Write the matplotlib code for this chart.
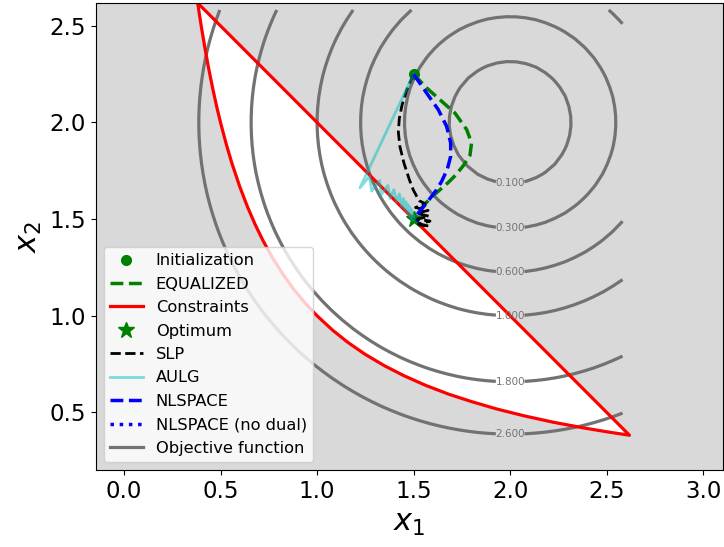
import matplotlib.pyplot as plt
import numpy as np

# objective: squared distance to a center point, contour levels shown
obj_center = (2.0, 2.0)
obj_levels = [0.1, 0.3, 0.6, 1.0, 1.8, 2.6]
grid_lo, grid_hi, grid_step = 0.382, 2.618, 0.05

# constraint boundary (curved part); closing the
# polygon gives the straight edge x1 + x2 = 3
constraint_x1 = [0.382, 0.39, 0.40, 0.42, 0.44, 0.46, 0.48, 0.50, 0.53, 0.56,
                 0.60, 0.64, 0.68, 0.72, 0.77, 0.82, 0.88, 0.94, 1.00, 1.08,
                 1.16, 1.25, 1.35, 1.45, 1.56, 1.68, 1.80, 1.93, 2.07, 2.22,
                 2.38, 2.50, 2.618]
constraint_x2 = [2.618, 2.564, 2.500, 2.381, 2.273, 2.174, 2.083, 2.000, 1.887, 1.786,
                 1.667, 1.563, 1.471, 1.389, 1.299, 1.220, 1.136, 1.064, 1.000, 0.926,
                 0.862, 0.800, 0.741, 0.690, 0.641, 0.595, 0.556, 0.518, 0.483, 0.450,
                 0.420, 0.400, 0.382]

init_pt = (1.5, 2.25)
optimum_pt = (1.5, 1.5)

equalized_x1 = [1.50, 1.567, 1.636, 1.714, 1.775, 1.800, 1.792, 1.760, 1.720,
                1.680, 1.640, 1.600, 1.560, 1.520, 1.500]
equalized_x2 = [2.25, 2.179, 2.118, 2.049, 1.963, 1.894, 1.830, 1.780, 1.730,
                1.690, 1.655, 1.620, 1.580, 1.530, 1.500]

slp_x1 = [1.50, 1.465, 1.440, 1.426, 1.421, 1.429, 1.450, 1.478, 1.498, 1.516,
          1.530, 1.560, 1.510, 1.575, 1.515, 1.580, 1.520, 1.585, 1.525, 1.580, 1.530]
slp_x2 = [2.25, 2.170, 2.090, 2.020, 1.950, 1.876, 1.790, 1.704, 1.652, 1.618,
          1.595, 1.580, 1.560, 1.545, 1.530, 1.515, 1.500, 1.490, 1.475, 1.465, 1.470]

aulg_x1 = [1.50, 1.222, 1.272, 1.283, 1.324, 1.331, 1.367, 1.378, 1.398, 1.412,
           1.427, 1.438, 1.448, 1.452, 1.460, 1.462, 1.470, 1.472, 1.480, 1.480,
           1.488, 1.488, 1.495, 1.495, 1.500, 1.500]
aulg_x2 = [2.25, 1.662, 1.722, 1.645, 1.700, 1.624, 1.674, 1.607, 1.652, 1.590,
           1.630, 1.566, 1.606, 1.552, 1.590, 1.540, 1.576, 1.528, 1.564, 1.515,
           1.550, 1.505, 1.537, 1.497, 1.520, 1.500]

nlspace_x1 = [1.50, 1.567, 1.628, 1.671, 1.692, 1.692, 1.674, 1.645, 1.619,
              1.567, 1.524, 1.500]
nlspace_x2 = [2.25, 2.153, 2.066, 1.980, 1.894, 1.825, 1.756, 1.695, 1.652,
              1.583, 1.531, 1.500]

nodual_x1 = [1.53, 1.51, 1.50]
nodual_x2 = [1.49, 1.50, 1.50]

obj_color = "#727272"

fig = plt.figure(figsize=(7.24, 5.47), dpi=100)
ax = fig.add_axes([0.132, 0.140, 0.866, 0.8545])
ax.set_facecolor("#d9d9d9")

# feasible region + boundary
ax.fill(constraint_x1, constraint_x2, color="white", zorder=0)

# objective contours
g = np.arange(grid_lo, grid_hi, grid_step)
X, Y = np.meshgrid(g, g)
Z = (X - obj_center[0]) ** 2 + (Y - obj_center[1]) ** 2
cs = ax.contour(X, Y, Z, levels=obj_levels, colors=obj_color, linewidths=2.3,
                zorder=1)
label_pos = [(obj_center[0], obj_center[1] - np.sqrt(lv)) for lv in obj_levels]
ax.clabel(cs, fmt="%.3f", manual=label_pos, fontsize=7.5, inline=True)

h_init, = ax.plot(*init_pt, "o", color="green", markersize=7, zorder=3,
                  label="Initialization")
h_eq, = ax.plot(equalized_x1, equalized_x2, "--", color="green", lw=2.5,
                zorder=4, label="EQUALIZED")
h_con, = ax.plot(constraint_x1 + constraint_x1[:1], constraint_x2 + constraint_x2[:1],
                 color="red", lw=2.3, zorder=2, label="Constraints")
h_opt, = ax.plot(*optimum_pt, "*", color="green", markersize=12, zorder=2.5,
                 label="Optimum")
h_slp, = ax.plot(slp_x1, slp_x2, "--", color="black", lw=2, zorder=5,
                 label="SLP")
h_aulg, = ax.plot(aulg_x1, aulg_x2, "-", color="c", alpha=0.5, lw=2, zorder=5,
                  label="AULG")
h_nd, = ax.plot(nodual_x1, nodual_x2, ":", color="blue", lw=2.5, zorder=4,
                label="NLSPACE (no dual)")
h_nl, = ax.plot(nlspace_x1, nlspace_x2, "--", color="blue", lw=2.5, zorder=6,
                label="NLSPACE")
h_obj, = ax.plot([], [], color=obj_color, lw=2.3, label="Objective function")

ax.legend(handles=[h_init, h_eq, h_con, h_opt, h_slp, h_aulg, h_nl, h_nd, h_obj],
          loc="lower left", fontsize=11.7, labelspacing=0.52)

ax.set_xlim(-0.147, 3.100)
ax.set_ylim(0.200, 2.618)
ax.tick_params(labelsize=16.5)
ax.set_xlabel("$x_1$", fontsize=22)
ax.set_ylabel("$x_2$", fontsize=22)

plt.savefig("out.png", dpi=100)
